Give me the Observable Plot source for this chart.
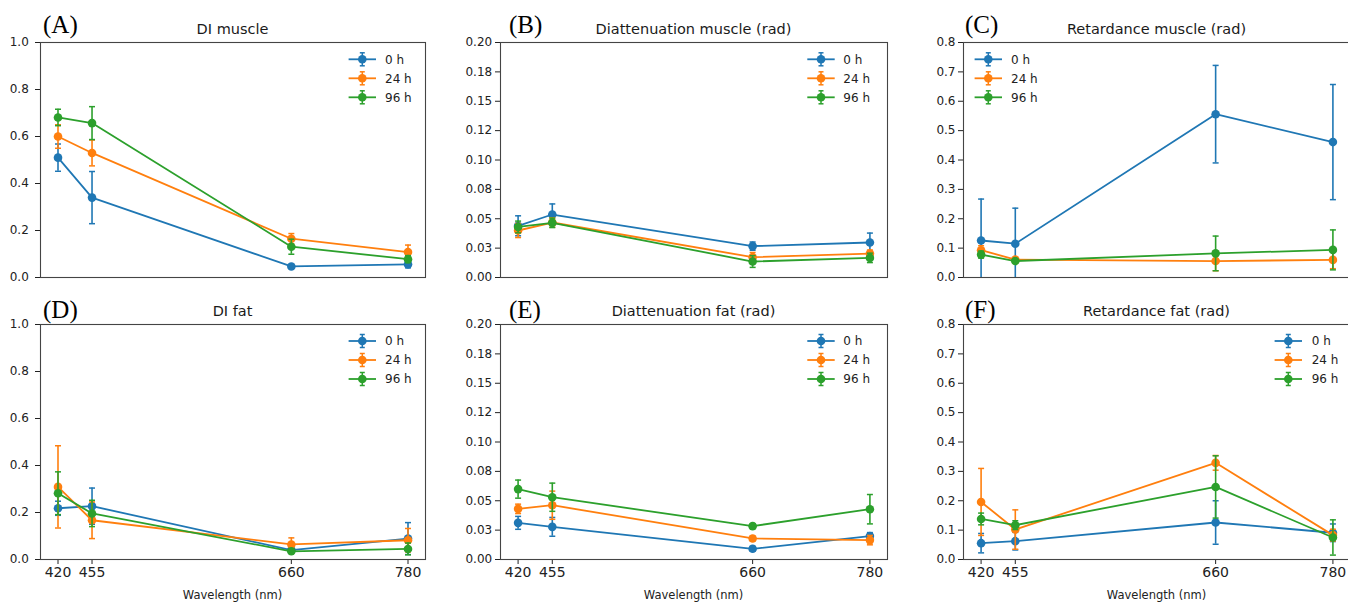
<!DOCTYPE html>
<html><head><meta charset="utf-8">
<script src="https://cdn.jsdelivr.net/npm/d3@7"></script>
<script src="https://cdn.jsdelivr.net/npm/@observablehq/plot@0.6"></script>
<style>
html,body{margin:0;padding:0;background:#fff;overflow:hidden;}
#root{position:relative;width:1348px;height:604px;overflow:hidden;font-family:"DejaVu Sans",sans-serif;background:#fff;}
#root svg{position:absolute;}
</style></head><body><div id="root"></div>
<script>
// ---------- data ----------
const wavelengths = [420, 455, 660, 780];
const seriesLabels = ["0 h", "24 h", "96 h"];
const seriesColors = ["#1f77b4", "#ff7f0e", "#2ca02c"];

// (A) DI muscle
const diMuscle0h = [0.510, 0.340, 0.047, 0.056];
const diMuscle0hErr = [0.058, 0.111, 0.008, 0.015];
const diMuscle24h = [0.600, 0.530, 0.165, 0.108];
const diMuscle24hErr = [0.050, 0.055, 0.022, 0.030];
const diMuscle96h = [0.681, 0.657, 0.131, 0.078];
const diMuscle96hErr = [0.035, 0.070, 0.032, 0.015];

// (B) Diattenuation muscle
const diatMuscle0h = [0.0440, 0.0536, 0.0267, 0.0298];
const diatMuscle0hErr = [0.0085, 0.0090, 0.0035, 0.0080];
const diatMuscle24h = [0.0400, 0.0468, 0.0173, 0.0204];
const diatMuscle24hErr = [0.0060, 0.0040, 0.0040, 0.0030];
const diatMuscle96h = [0.0430, 0.0465, 0.0136, 0.0167];
const diatMuscle96hErr = [0.0050, 0.0040, 0.0050, 0.0040];

// (C) Retardance muscle
const retMuscle0h = [0.126, 0.115, 0.556, 0.461];
const retMuscle0hErr = [0.141, 0.121, 0.166, 0.196];
const retMuscle24h = [0.093, 0.061, 0.056, 0.060];
const retMuscle24hErr = [0.015, 0.005, 0.033, 0.030];
const retMuscle96h = [0.078, 0.056, 0.082, 0.094];
const retMuscle96hErr = [0.012, 0.006, 0.059, 0.068];

// (D) DI fat
const diFat0h = [0.218, 0.227, 0.040, 0.089];
const diFat0hErr = [0.030, 0.077, 0.010, 0.068];
const diFat24h = [0.309, 0.167, 0.064, 0.082];
const diFat24hErr = [0.175, 0.078, 0.028, 0.050];
const diFat96h = [0.282, 0.196, 0.035, 0.045];
const diFat96hErr = [0.091, 0.056, 0.008, 0.025];

// (E) Diattenuation fat
const diatFat0h = [0.0312, 0.0278, 0.0091, 0.0199];
const diatFat0hErr = [0.0055, 0.0080, 0.0020, 0.0030];
const diatFat24h = [0.0431, 0.0462, 0.0179, 0.0165];
const diatFat24hErr = [0.0040, 0.0120, 0.0020, 0.0040];
const diatFat96h = [0.0599, 0.0530, 0.0284, 0.0428];
const diatFat96hErr = [0.0077, 0.0120, 0.0020, 0.0125];

// (F) Retardance fat
const retFat0h = [0.0556, 0.0624, 0.126, 0.091];
const retFat0hErr = [0.033, 0.030, 0.074, 0.030];
const retFat24h = [0.196, 0.102, 0.329, 0.083];
const retFat24hErr = [0.114, 0.067, 0.025, 0.020];
const retFat96h = [0.138, 0.117, 0.247, 0.075];
const retFat96hErr = [0.020, 0.015, 0.106, 0.060];

// tick labels
const diTicks = [0, 0.2, 0.4, 0.6, 0.8, 1.0];
const diTickLabels = ["0.0", "0.2", "0.4", "0.6", "0.8", "1.0"];
const diatTicks = [0, 0.025, 0.05, 0.075, 0.1, 0.125, 0.15, 0.175, 0.2];
const diatTickLabels = ["0.00", "0.03", "0.05", "0.08", "0.10", "0.12", "0.15", "0.18", "0.20"];
const retTicks = [0, 0.1, 0.2, 0.3, 0.4, 0.5, 0.6, 0.7, 0.8];
const retTickLabels = ["0.0", "0.1", "0.2", "0.3", "0.4", "0.5", "0.6", "0.7", "0.8"];
const panelTitles = ["DI muscle", "Diattenuation muscle (rad)", "Retardance muscle (rad)", "DI fat", "Diattenuation fat (rad)", "Retardance fat (rad)"];
const panelLetters = ["(A)", "(B)", "(C)", "(D)", "(E)", "(F)"];
const xLabel = "Wavelength (nm)";

// ---------- layout ----------
const panels = [
  {means:[diMuscle0h,diMuscle24h,diMuscle96h], errs:[diMuscle0hErr,diMuscle24hErr,diMuscle96hErr], yMax:1.0, ticks:diTicks, labels:diTickLabels,
   fx0:40, fx1:425, fy0:42, fy1:277, bottom:false, pad:6.7, leg:{dx:362.3, tx:385, y:59.3}, letterX:43, letterY:32.5},
  {means:[diatMuscle0h,diatMuscle24h,diatMuscle96h], errs:[diatMuscle0hErr,diatMuscle24hErr,diatMuscle96hErr], yMax:0.2, ticks:diatTicks, labels:diatTickLabels,
   fx0:500, fx1:887, fy0:42, fy1:277, bottom:false, pad:3.3, leg:{dx:821, tx:843.3, y:59.3}, letterX:509, letterY:32.5},
  {means:[retMuscle0h,retMuscle24h,retMuscle96h], errs:[retMuscle0hErr,retMuscle24hErr,retMuscle96hErr], yMax:0.8, ticks:retTicks, labels:retTickLabels,
   fx0:963, fx1:1350, fy0:42, fy1:277, bottom:false, pad:3, leg:{dx:988.3, tx:1011, y:59.3}, letterX:965, letterY:32.5},
  {means:[diFat0h,diFat24h,diFat96h], errs:[diFat0hErr,diFat24hErr,diFat96hErr], yMax:1.0, ticks:diTicks, labels:diTickLabels,
   fx0:40, fx1:425, fy0:324, fy1:559, bottom:true, pad:6.7, leg:{dx:362.3, tx:385, y:341}, letterX:43, letterY:318},
  {means:[diatFat0h,diatFat24h,diatFat96h], errs:[diatFat0hErr,diatFat24hErr,diatFat96hErr], yMax:0.2, ticks:diatTicks, labels:diatTickLabels,
   fx0:500, fx1:887, fy0:324, fy1:559, bottom:true, pad:3.3, leg:{dx:821, tx:843.3, y:341}, letterX:509, letterY:318},
  {means:[retFat0h,retFat24h,retFat96h], errs:[retFat0hErr,retFat24hErr,retFat96hErr], yMax:0.8, ticks:retTicks, labels:retTickLabels,
   fx0:963, fx1:1350, fy0:324, fy1:559, bottom:true, pad:3, leg:{dx:1288.3, tx:1311.7, y:341}, letterX:965, letterY:318}
];

const root = document.getElementById("root");
const cap = {draw(ctx, size) { const w = Math.sqrt(size / Math.PI); ctx.moveTo(-w, 0); ctx.lineTo(w, 0); }};
const FONT = "DejaVu Sans, sans-serif";

panels.forEach((p, pi) => {
  const ml = 60, mr = 12, mt = 10, mb = p.bottom ? 30 : 10;
  const fw = p.fx1 - p.fx0, fh = p.fy1 - p.fy0;
  const marks = [];
  marks.push(Plot.axisY({ticks: p.ticks, tickFormat: d => p.labels[p.ticks.findIndex(t => Math.abs(t - d) < 1e-9)],
    tickSize: 5, tickPadding: p.pad, fontSize: 12, label: null}));
  if (p.bottom) marks.push(Plot.axisX({ticks: wavelengths, tickFormat: d => String(d), tickSize: 5, tickPadding: 3, fontSize: 14, label: null}));
  p.means.forEach((m, k) => {
    const rows = wavelengths.map((w, i) => ({w, v: m[i], lo: m[i] - p.errs[k][i], hi: m[i] + p.errs[k][i]}));
    const c = seriesColors[k];
    marks.push(Plot.ruleX(rows, {x: "w", y1: "lo", y2: "hi", stroke: c, strokeWidth: 1.6, clip: true}));
    marks.push(Plot.dot(rows, {x: "w", y: "lo", symbol: cap, r: 3, stroke: c, fill: "none", strokeWidth: 1.5, clip: true}));
    marks.push(Plot.dot(rows, {x: "w", y: "hi", symbol: cap, r: 3, stroke: c, fill: "none", strokeWidth: 1.5, clip: true}));
    marks.push(Plot.line(rows, {x: "w", y: "v", stroke: c, strokeWidth: 1.8}));
    marks.push(Plot.dot(rows, {x: "w", y: "v", r: 4.3, fill: c, stroke: "none"}));
  });
  marks.push(Plot.frame({stroke: "#444", strokeWidth: 1.1}));
  const svg = Plot.plot({
    width: ml + fw + mr, height: mt + fh + mb,
    marginLeft: ml, marginRight: mr, marginTop: mt, marginBottom: mb,
    x: {domain: [402, 798], axis: p.bottom ? undefined : null},
    y: {domain: [0, p.yMax]},
    style: {fontFamily: FONT, color: "#222", background: "transparent", overflow: "visible"},
    marks
  });
  svg.style.left = (p.fx0 - ml) + "px";
  svg.style.top = (p.fy0 - mt) + "px";
  svg.style.maxWidth = "none";
  root.appendChild(svg);
});

// overlay: titles, panel letters, x labels, legends
const ov = d3.create("svg").attr("width", 1348).attr("height", 604).style("left", "0px").style("top", "0px").style("pointer-events", "none");
panels.forEach((p, pi) => {
  const cx = (p.fx0 + Math.min(p.fx1, 1350)) / 2;
  ov.append("text").attr("x", cx).attr("y", p.fy0 - 8).attr("text-anchor", "middle")
    .attr("font-family", FONT).attr("font-size", 14.5).attr("fill", "#1a1a1a").text(panelTitles[pi]);
  ov.append("text").attr("x", p.letterX).attr("y", p.letterY)
    .attr("font-family", "Liberation Serif, Times New Roman, serif").attr("font-size", 25).attr("fill", "#000").text(panelLetters[pi]);
  if (p.bottom) {
    ov.append("text").attr("x", cx).attr("y", 599).attr("text-anchor", "middle")
      .attr("font-family", FONT).attr("font-size", 11.5).attr("fill", "#222").text(xLabel);
  }
  seriesLabels.forEach((lab, k) => {
    const y = p.leg.y + k * 19, x = p.leg.dx, c = seriesColors[k];
    const g = ov.append("g");
    g.append("line").attr("x1", x - 13.7).attr("x2", x + 13.7).attr("y1", y).attr("y2", y).attr("stroke", c).attr("stroke-width", 1.8);
    g.append("line").attr("x1", x).attr("x2", x).attr("y1", y - 6.5).attr("y2", y + 6.5).attr("stroke", c).attr("stroke-width", 1.5);
    g.append("line").attr("x1", x - 2.5).attr("x2", x + 2.5).attr("y1", y - 6.5).attr("y2", y - 6.5).attr("stroke", c).attr("stroke-width", 1.5);
    g.append("line").attr("x1", x - 2.5).attr("x2", x + 2.5).attr("y1", y + 6.5).attr("y2", y + 6.5).attr("stroke", c).attr("stroke-width", 1.5);
    g.append("circle").attr("cx", x).attr("cy", y).attr("r", 4.3).attr("fill", c);
    g.append("text").attr("x", p.leg.tx).attr("y", y).attr("dy", "0.36em").attr("font-family", FONT).attr("font-size", 12).attr("fill", "#222").text(lab);
  });
});
root.appendChild(ov.node());
</script></body></html>
